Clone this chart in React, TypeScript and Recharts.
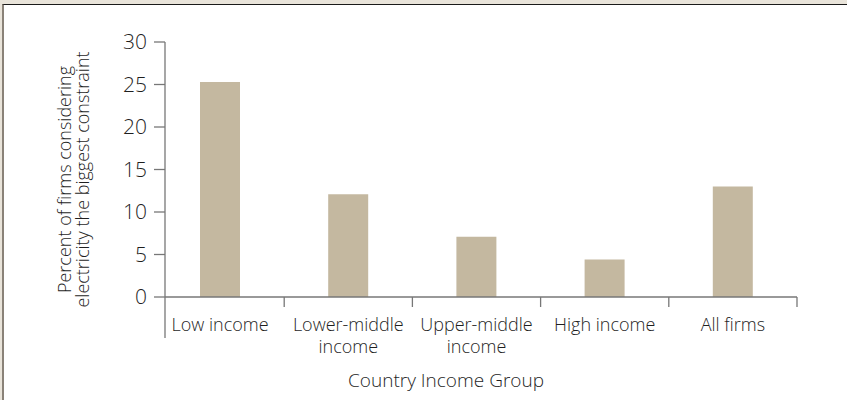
import { BarChart, Bar, XAxis, YAxis } from 'recharts';

const categories = ['Low income', 'Lower-middle income', 'Upper-middle income', 'High income', 'All firms'];
const shares = [25.3, 12.1, 7.1, 4.4, 13.0];
const yTicks = [0, 5, 10, 15, 20, 25, 30];

// label lines for the x axis (two-line labels break after the hyphenated word)
const labelLines: Record<string, string[]> = {
  'Lower-middle income': ['Lower-middle', 'income'],
  'Upper-middle income': ['Upper-middle', 'income'],
};

const data = categories.map((name, i) => ({ name, value: shares[i] }));

const FONT = '"Open Sans", sans-serif';
const TEXT = '#1f1f1f';
const AXIS = '#777';

const CategoryTick = (props: any) => {
  const { x, y, payload } = props;
  const half = payload.offset || 0;
  const lines = labelLines[payload.value] || [payload.value];
  return (
    <g>
      <line x1={x + half} y1={y} x2={x + half} y2={y + 10} stroke={AXIS} strokeWidth={1.3} />
      <text x={x} y={y} textAnchor="middle" fill={TEXT} fontSize={18} fontWeight={300} fontFamily={FONT}>
        {lines.map((l, i) => (
          <tspan key={i} x={x} dy={i === 0 ? 34 : 22}>{l}</tspan>
        ))}
      </text>
    </g>
  );
};

const YTitle = (props: any) => {
  const { x, y, width, height } = props.viewBox;
  const cy = y + height / 2 + 10;
  const axisX = x + width;
  return (
    <g>
      <line x1={axisX} y1={y + height} x2={axisX} y2={y + height + 41} stroke={AXIS} strokeWidth={1.3} />
      <text transform={`translate(71, ${cy}) rotate(-90)`} textAnchor="middle" fill={TEXT} fontSize={18} fontWeight={300} fontFamily={FONT}>
        Percent of firms considering
      </text>
      <text transform={`translate(89, ${cy}) rotate(-90)`} textAnchor="middle" fill={TEXT} fontSize={18} fontWeight={300} fontFamily={FONT}>
        electricity the biggest constraint
      </text>
    </g>
  );
};

const XTitle = (props: any) => {
  const { x, y, width } = props.viewBox;
  return (
    <text x={x + width / 2 - 35} y={y + 90} textAnchor="middle" fill={TEXT} fontSize={19} fontWeight={300} fontFamily={FONT}>
      Country Income Group
    </text>
  );
};

export default function App() {
  return (
    <div style={{ position: 'absolute', left: 0, top: 0, width: 847, height: 400, background: '#e9e4da' }}>
      <div
        style={{
          position: 'absolute',
          left: 2,
          top: 4,
          right: 0,
          bottom: 0,
          background: '#fff',
          borderTop: '1.5px solid #1a1a1a',
          borderLeft: '2px solid #8a8278',
        }}
      />
      <div style={{ position: 'absolute', left: 0, top: 0 }}>
        <BarChart width={847} height={400} data={data} margin={{ top: 42, right: 50, bottom: 0, left: 0 }}>
          <XAxis
            dataKey="name"
            height={103}
            padding={{ left: -9, right: 0 }}
            tickSize={0}
            tickMargin={0}
            tickLine={false}
            axisLine={{ stroke: AXIS, strokeWidth: 1.3 }}
            tick={<CategoryTick />}
            interval={0}
            label={<XTitle />}
          />
          <YAxis
            width={165}
            domain={[0, 30]}
            ticks={yTicks}
            interval={0}
            tickSize={11}
            tickMargin={7}
            axisLine={{ stroke: AXIS, strokeWidth: 1.3 }}
            tickLine={{ stroke: AXIS, strokeWidth: 1.3 }}
            tick={{ fill: TEXT, fontSize: 21, fontWeight: 300, fontFamily: FONT }}
            label={<YTitle />}
          />
          <Bar dataKey="value" fill="#c4b8a0" barSize={40} isAnimationActive={false} />
        </BarChart>
      </div>
    </div>
  );
}
